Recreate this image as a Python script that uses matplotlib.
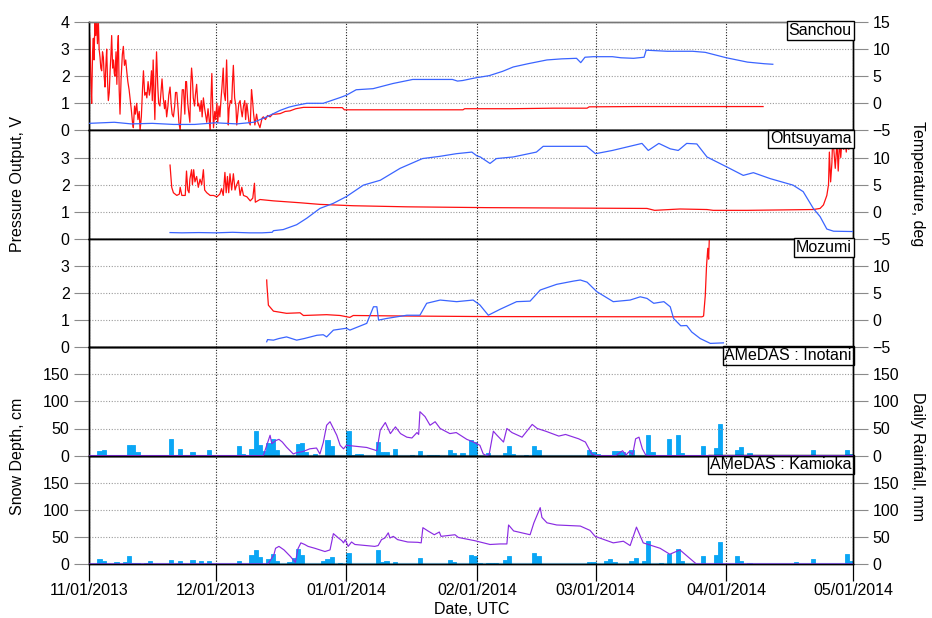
import numpy as np
import matplotlib
matplotlib.use("Agg")
import matplotlib.pyplot as plt
import matplotlib.dates as mdates

plt.rcParams['font.family'] = ['Liberation Sans', 'DejaVu Sans']

# ---------------- data (day offset from 2013-11-01, value) ----------------
START = '2013-11-01'
END = '2014-05-01'
month_labels = ['11/01/2013', '12/01/2013', '01/01/2014', '02/01/2014',
                '03/01/2014', '04/01/2014', '05/01/2014']

station_names = ['Sanchou', 'Ohtsuyama', 'Mozumi', 'AMeDAS : Inotani', 'AMeDAS : Kamioka']

sanchou_pressure = [
    (0.0, 2.5), (0.1, 3.6), (0.25, 3.3), (0.45, 1.8), (0.63, 1.0), (0.85, 2.9), (1.03, 3.4), (1.2, 2.6),
    (1.42, 4.2), (1.6, 3.5), (1.8, 4.2), (2.0, 3.2), (2.21, 4.1), (2.4, 3.0), (2.61, 2.7), (2.8, 2.3),
    (3.0, 2.2), (3.2, 2.9), (3.4, 2.7), (3.6, 2.0), (3.79, 1.6), (4.0, 2.4), (4.19, 3.0), (4.4, 1.8),
    (4.58, 1.1), (4.8, 1.4), (5.0, 2.2), (5.2, 2.8), (5.37, 3.5), (5.6, 2.3), (5.8, 2.6), (6.0, 2.1),
    (6.16, 2.0), (6.4, 2.9), (6.6, 1.7), (6.8, 3.1), (6.95, 3.5), (7.15, 1.5), (7.35, 0.6), (7.6, 1.9),
    (7.9, 2.8), (8.14, 3.1), (8.4, 2.4), (8.7, 2.6), (8.93, 2.2), (9.2, 1.8), (9.5, 1.5), (9.72, 1.2),
    (10.0, 0.8), (10.3, 0.3), (10.5, 0.1), (10.8, 0.9), (11.0, 0.6), (11.3, 1.0), (11.6, 0.4), (11.9, 0.7),
    (12.1, 0.0), (12.4, 0.5), (12.7, 1.6), (12.9, 2.2), (13.2, 1.3), (13.5, 1.4), (13.7, 1.2), (14.0, 1.8),
    (14.3, 1.3), (14.5, 1.5), (14.8, 2.2), (15.0, 1.1), (15.2, 2.6), (15.4, 1.5), (15.6, 0.4), (15.8, 1.8),
    (16.0, 2.9), (16.3, 1.6), (16.5, 1.0), (16.8, 0.9), (17.1, 1.5), (17.3, 1.9), (17.6, 1.2), (17.9, 0.8),
    (18.1, 1.1), (18.4, 0.5), (18.7, 0.9), (18.9, 1.3), (19.2, 1.6), (19.5, 0.9), (19.7, 0.6), (20.0, 0.5),
    (20.3, 0.9), (20.5, 1.4), (20.8, 1.4), (21.1, 0.8), (21.3, 0.3), (21.6, 0.0), (21.9, 0.9), (22.1, 1.5),
    (22.4, 1.5), (22.7, 0.6), (22.9, 1.8), (23.1, 1.8), (23.4, 1.0), (23.6, 0.7), (23.9, 0.3), (24.1, 1.7),
    (24.3, 2.3), (24.5, 1.9), (24.7, 1.2), (25.0, 0.9), (25.2, 1.3), (25.5, 1.7), (25.8, 0.9), (26.0, 1.0),
    (26.3, 0.7), (26.6, 1.1), (26.8, 0.5), (27.1, 1.2), (27.4, 0.8), (27.6, 0.6), (27.9, 0.3), (28.2, 0.8),
    (28.4, 0.5), (28.7, 0.0), (28.9, 1.2), (29.1, 2.1), (29.3, 0.9), (29.5, 0.1), (29.8, 0.7), (30.0, 0.4),
    (30.3, 1.0), (30.5, 0.3), (30.8, 0.9), (31.0, 0.5), (31.3, 1.2), (31.5, 1.6), (31.8, 2.3), (32.0, 1.4),
    (32.3, 1.1), (32.6, 2.6), (32.8, 1.5), (33.0, 0.2), (33.2, 0.8), (33.5, 1.1), (33.8, 1.0), (34.0, 1.8),
    (34.2, 2.4), (34.5, 1.2), (34.8, 0.9), (35.0, 0.2), (35.3, 0.7), (35.5, 1.0), (35.8, 1.1), (36.1, 0.7),
    (36.3, 0.5), (36.6, 0.9), (36.9, 1.1), (37.1, 0.4), (37.4, 1.0), (37.7, 0.6), (37.9, 0.3), (38.2, 0.2),
    (38.5, 1.5), (38.7, 1.2), (39.0, 0.6), (39.3, 0.2), (39.5, 0.4), (39.7, 0.6), (40.0, 0.3), (40.5, 0.1),
    (41.0, 0.45), (41.3, 0.5), (41.8, 0.4), (42.3, 0.55), (42.9, 0.5), (43.5, 0.6), (44.2, 0.6), (45.3, 0.62),
    (46.5, 0.7), (47.6, 0.72), (49.0, 0.8), (50.8, 0.85), (52.0, 0.85), (55.0, 0.85), (58.0, 0.84), (60.0, 0.84),
    (60.5, 0.76), (70.0, 0.76), (80.0, 0.76), (88.6, 0.76), (89.0, 0.8), (100.0, 0.8), (110.0, 0.82),
    (118.0, 0.82), (118.5, 0.87), (130.0, 0.88), (145.0, 0.88), (159.7, 0.88),
]

sanchou_temp = [
    (0, -3.7), (3, -3.6), (6, -3.5), (10, -3.8), (15, -3.7), (20, -3.9), (25, -3.9), (30, -3.6), (35, -3.8),
    (39, -3.5), (42.1, -2.5), (45.3, -1.3), (47.4, -0.7), (49, -0.4), (51.6, 0.0), (55.5, 0.0), (59.5, 1.06),
    (61, 1.5), (63.3, 2.5), (67.3, 2.7), (72, 3.65), (76.7, 4.4), (80, 4.4), (86.1, 4.4), (87.3, 4.1),
    (88.5, 4.2), (91.6, 4.7), (94.8, 5.1), (98, 5.9), (100.5, 6.7), (104, 7.3), (108.5, 8.0), (112, 8.2),
    (115.5, 8.3), (116.5, 7.5), (117.5, 8.5), (119.5, 8.6), (124, 8.6), (126, 8.4), (129, 8.3), (131.5, 8.5),
    (132, 9.8), (137, 9.6), (143, 9.6), (146, 9.4), (148, 9.0), (151, 8.4), (156, 7.6), (160, 7.3), (162, 7.2),
]

ohtsuyama_pressure = [
    (19.2, 2.72), (19.4, 2.3), (19.6, 1.9), (20.0, 1.7), (20.8, 1.6), (21.4, 1.65), (21.6, 1.9), (22.0, 1.6),
    (22.8, 1.6), (23.1, 2.5), (23.4, 1.8), (23.7, 1.7), (23.9, 2.2), (24.3, 2.55), (24.5, 2.0), (24.8, 2.55),
    (25.1, 2.1), (25.5, 2.3), (25.9, 1.9), (26.3, 2.2), (26.7, 2.0), (27.1, 2.55), (27.4, 1.8), (27.9, 1.7),
    (28.7, 1.6), (29.5, 1.6), (30.3, 1.55), (31.0, 1.65), (31.4, 1.85), (31.8, 1.6), (32.2, 2.45), (32.5, 1.7),
    (32.8, 2.3), (33.1, 1.7), (33.4, 2.4), (33.8, 1.8), (34.2, 2.4), (34.6, 1.8), (35.0, 2.0), (35.4, 2.15),
    (35.8, 1.6), (36.2, 1.9), (36.6, 1.6), (37.4, 1.55), (38.2, 1.4), (38.8, 1.5), (39.2, 2.05), (39.4, 1.35),
    (40.5, 1.45), (43.7, 1.4), (50.0, 1.33), (54.7, 1.27), (62.6, 1.22), (75.3, 1.18), (94.2, 1.15),
    (132.2, 1.12), (134.0, 1.05), (140.0, 1.1), (146.4, 1.08), (147.9, 1.05), (155.9, 1.05), (171.6, 1.08),
    (173.2, 1.12), (174.0, 1.25), (174.8, 1.6), (175.2, 2.0), (175.4, 3.2), (175.7, 2.1), (176.0, 2.8),
    (176.2, 3.8), (176.5, 3.2), (176.8, 2.6), (177.2, 3.6), (177.5, 2.5), (177.8, 3.6), (178.1, 3.0),
    (178.4, 3.7), (178.8, 3.3), (179.1, 3.7), (179.4, 3.2), (179.7, 3.7), (180.0, 3.3), (180.3, 3.8),
    (180.6, 3.4), (181.0, 3.7),
]

ohtsuyama_temp = [
    (19.2, -3.85), (22, -3.9), (26, -3.85), (30, -3.9), (34, -3.8), (38, -3.9), (41, -3.9), (43.4, -3.8),
    (43.7, -3.5), (46, -3.3), (49.2, -2.4), (51.6, -1.2), (54.7, 0.6), (57.9, 1.55), (61, 2.8), (65, 4.9),
    (69, 5.8), (73.7, 8.0), (79, 9.8), (83, 10.2), (87, 10.7), (90.7, 11.0), (91.9, 10.3), (92.7, 10.1),
    (95, 8.9), (96.5, 9.8), (100.5, 10.1), (106, 11.0), (107.6, 12.06), (117.9, 12.06), (120, 10.7),
    (124, 11.3), (131, 12.6), (132.5, 11.3), (135, 12.6), (137.7, 11.6), (139.6, 11.3), (141.6, 12.6),
    (144, 12.5), (146.4, 10.1), (151, 8.3), (155, 6.7), (157.4, 7.2), (161.4, 6.1), (166.8, 4.9),
    (169.2, 3.7), (171.6, 0.6), (173.2, -0.9), (174.8, -3.2), (176.4, -3.6), (181, -3.66),
]

mozumi_pressure = [
    (42.1, 2.48), (42.15, 2.3), (42.5, 1.55), (43.7, 1.33), (46.8, 1.25), (50.0, 1.27), (50.8, 1.17),
    (56.3, 1.2), (59.5, 1.17), (61.8, 1.1), (62.6, 1.17), (75.3, 1.15), (94.2, 1.13), (145.2, 1.12),
    (145.6, 1.15), (146.0, 1.9), (146.3, 3.0), (146.6, 3.65), (146.8, 3.25), (147.0, 4.2),
]

mozumi_temp = [
    (42.1, -4.0), (42.3, -3.6), (43.7, -3.7), (45, -3.4), (46.8, -3.1), (49.2, -3.7), (51, -3.4), (54, -2.8),
    (55.5, -2.7), (56.3, -3.1), (57.9, -1.85), (61, -1.5), (61.8, -1.85), (65.8, -0.6), (67.4, 2.46),
    (68.2, 2.46), (68.6, 0.0), (70.5, 0.3), (75.3, 0.9), (78.4, 0.9), (80, 3.1), (83.2, 3.7), (87.1, 3.4),
    (91, 3.7), (92.6, 2.8), (94.6, 0.9), (97.4, 2.0), (101.3, 3.4), (104.5, 3.5), (106.9, 5.55), (110.8, 6.6),
    (114.8, 7.2), (116.4, 7.4), (118, 7.0), (120.3, 5.25), (124.2, 3.4), (128.2, 3.7), (130.6, 4.3),
    (132.2, 4.0), (133.8, 3.1), (136.2, 3.4), (137.7, 2.46), (138.5, 0.3), (140.2, -1.05), (141.6, -1.0),
    (142.8, -2.2), (144.8, -3.4), (147.2, -4.3), (150.3, -4.2),
]

inotani_rain = [
    (2, 9), (3, 11), (6, 2), (8, 1), (9, 19), (10, 19), (11, 6), (13, 1), (14, 1), (19, 30), (20, 1), (21, 13),
    (24, 6), (26, 1), (28, 11), (29, 1), (35, 17), (36, 3), (38, 12.5), (39, 45), (40, 19), (41, 9), (42, 24),
    (43, 30), (44, 11), (49, 21), (50, 23), (51, 6), (53, 3), (56, 29), (57, 17), (61, 45), (62, 1), (63, 3),
    (64, 3), (68, 26), (69, 6), (70, 6), (72, 12.5), (76, 1), (78, 9), (80, 1), (81, 1), (82, 2), (85, 11),
    (86, 5), (88, 5), (90, 28), (91, 25), (94, 5), (98, 5), (99, 17.5), (100, 3), (103, 1), (105, 17.5),
    (106, 11), (118, 10.6), (119, 6), (120, 3), (124, 9), (125, 9), (126, 7.5), (128, 11), (132, 37.5),
    (133, 6), (137, 30), (139, 37.5), (140, 5), (145, 17.5), (148, 14), (149, 58), (153, 11), (154, 15.6),
    (156, 5), (160, 1), (167, 2), (171, 11), (179, 11), (180, 3),
]

kamioka_rain = [
    (2, 9), (3, 5.6), (6, 3), (8, 3), (9, 14), (10, 1), (11, 1), (13, 1), (14, 5.6), (19, 7.5), (21, 5.6),
    (24, 7.5), (26, 5.6), (28, 5.6), (35, 5.6), (38, 17), (39, 26), (40, 12), (42, 9), (43, 18), (44, 6),
    (47, 3), (48, 10.6), (49, 28), (50, 17), (55, 6), (56, 9), (57, 12), (59, 1), (61, 21), (68, 25), (69, 3),
    (70, 5.6), (72, 3), (78, 10.6), (85, 7.5), (86, 3), (90, 17), (91, 15.6), (92, 1), (94, 1), (95, 1),
    (96, 1), (98, 7.5), (99, 15.6), (105, 21), (106, 14), (118, 4.4), (119, 4.4), (122, 5.6), (123, 9),
    (124, 4.4), (128, 5.6), (129, 10.6), (131, 5.6), (132, 43), (135, 1), (137, 18), (139, 28), (140, 5.6),
    (145, 15.6), (148, 17), (149, 40), (153, 15.6), (154, 6), (156, 1), (167, 3), (171, 9), (179, 19),
    (180, 5.6),
]

inotani_snow = [
    (0, 0), (41.3, 0), (42.9, 37.5), (43.3, 22), (44.3, 28), (45.0, 30), (45.8, 25), (46.8, 15.6), (48.4, 3),
    (49.0, 5), (50.7, 7.5), (52.3, 12.5), (53.9, 14), (54.7, 3), (55.5, 24), (56.3, 56), (57.1, 62.5),
    (57.9, 50), (58.7, 37.5), (59.5, 19), (60.3, 12.5), (61.0, 19), (63.4, 17), (65.8, 15), (67.4, 11),
    (68.2, 9), (69.0, 47), (70.2, 61), (71.4, 40.6), (72.6, 53), (73.8, 40.6), (75.3, 34), (76.5, 32.5),
    (77.7, 42.5), (78.1, 39), (78.4, 81), (79.6, 72), (80.8, 56), (82.0, 62.5), (83.2, 50), (85.5, 40.6),
    (87.0, 42.5), (89.5, 30), (91.1, 25), (92.6, 19), (93.4, 3), (94.2, 0), (94.8, 2), (95.8, 45), (96.6, 38),
    (98.2, 25), (99.0, 50), (100.2, 42.5), (102.6, 34), (105.0, 57.5), (106.2, 50), (108.2, 45), (111.3, 36),
    (112.9, 39), (116.0, 31), (117.6, 25), (119.1, 3), (120.0, 0), (124.8, 0), (126.4, 9), (127.2, 1),
    (128.0, 7.5), (128.8, 2), (129.5, 31), (130.3, 34), (131.1, 12.5), (131.9, 1), (132.5, 0), (181, 0),
]

kamioka_snow = [
    (0, 0), (42.4, 0), (43.8, 17), (44.2, 29), (45.0, 32.5), (46.2, 26), (47.7, 14), (48.9, 3), (49.5, 28),
    (50.2, 39), (51.1, 36), (51.9, 32.5), (53.5, 29), (55.9, 23), (57.1, 26), (57.9, 56), (59.1, 48),
    (59.9, 43), (60.3, 39), (60.7, 45), (61.4, 32.5), (62.2, 40.6), (63.0, 36), (67.7, 32.5), (68.5, 34),
    (69.3, 45), (70.1, 48), (70.9, 57.5), (71.3, 48), (72.1, 51), (73.1, 45), (75.5, 40.6), (77.9, 40),
    (78.7, 39), (79.1, 67), (80.3, 61), (81.8, 54), (83.0, 59), (83.4, 51), (86.7, 54), (87.5, 49),
    (91.4, 43), (95.0, 36), (97.4, 37), (99.0, 37), (99.4, 72), (100.6, 61), (104.5, 54), (105.4, 76),
    (106.9, 104), (107.3, 86), (108.5, 76), (110.8, 72), (116.4, 70), (118.7, 62), (119.9, 51), (124.2, 39),
    (126.6, 42), (128.2, 34), (129.7, 68), (131.3, 39), (135.3, 29), (137.6, 18), (140.0, 26), (142.3, 10.6),
    (143.9, 0), (181, 0),
]

# ---------------- helpers ----------------
base_num = mdates.date2num(np.datetime64(START))
xmin = mdates.date2num(np.datetime64(START))
xmax = mdates.date2num(np.datetime64(END))


def unzip(pairs):
    d = np.array([p[0] for p in pairs], dtype=float)
    v = np.array([p[1] for p in pairs], dtype=float)
    return base_num + d, v


RED = '#ff1010'
BLUE = '#3a64ff'
PURPLE = '#8a2be2'
RAIN = '#0aa6f5'
FS = 11.5

fig = plt.figure(figsize=(9.32, 6.18), dpi=100)
gs = fig.add_gridspec(5, 1, left=89 / 932, right=853 / 932, top=1 - 22 / 618, bottom=1 - 564 / 618, hspace=0)

pressure_sets = [sanchou_pressure, ohtsuyama_pressure, mozumi_pressure]
temp_sets = [sanchou_temp, ohtsuyama_temp, mozumi_temp]
rain_sets = [inotani_rain, kamioka_rain]
snow_sets = [inotani_snow, kamioka_snow]

for i in range(5):
    ax = fig.add_subplot(gs[i])
    ax2 = ax.twinx()
    if i < 3:
        t, v = unzip(pressure_sets[i])
        ax.plot(t, v, color=RED, lw=0.9, zorder=3)
        t2, v2 = unzip(temp_sets[i])
        ax2.plot(t2, v2, color=BLUE, lw=0.9, zorder=3)
        ax.set_ylim(0, 4)
        ax2.set_ylim(-5, 15)
        if i == 0:
            ax.set_yticks([0, 1, 2, 3, 4])
            ax2.set_yticks([-5, 0, 5, 10, 15])
        else:
            ax.set_yticks([0, 1, 2, 3])
            ax2.set_yticks([-5, 0, 5, 10])
    else:
        j = i - 3
        tr, vr = unzip(rain_sets[j])
        ax2.bar(tr, vr, width=1.0, align='edge', color=RAIN, edgecolor=RAIN, lw=0.6, zorder=2)
        ax2.axhline(0, color='#8fd8ff', lw=1.6, zorder=1)
        ts, vs = unzip(snow_sets[j])
        ax.plot(ts, vs, color=PURPLE, lw=0.85, zorder=3)
        ax.set_ylim(0, 200)
        ax2.set_ylim(0, 200)
        ax.set_yticks([0, 50, 100, 150])
        ax2.set_yticks([0, 50, 100, 150])
        ax.set_zorder(ax2.get_zorder() + 1)
        ax.patch.set_visible(False)
    ax.set_xlim(xmin, xmax)
    ax2.set_xlim(xmin, xmax)

    ax.grid(axis='y', ls=(0, (1, 1.5)), color='#9a9a9a', lw=0.8)
    ax.grid(axis='x', ls=(0, (1, 1.5)), color='#202020', lw=0.8)
    ax.xaxis.set_major_locator(mdates.MonthLocator())
    ax.xaxis.set_major_formatter(mdates.DateFormatter('%m/%d/%Y'))

    for a in (ax, ax2):
        a.tick_params(axis='y', direction='out', length=11, width=0.8, color='#8a8a8a',
                      labelsize=FS, pad=3)
        for s in a.spines.values():
            s.set_color('black')
            s.set_linewidth(1.0)
    if i == 0:
        ax.spines['top'].set_color('#777777')
        ax2.spines['top'].set_color('#777777')

    if i < 4:
        ax.tick_params(axis='x', length=0, labelbottom=False)
    else:
        ax.tick_params(axis='x', direction='out', length=12, width=0.9, color='black',
                       labelsize=FS, pad=2)
        ticks = ax.get_xticks()
        ax.set_xticks(ticks)
        ax.set_xticklabels(month_labels[:len(ticks)])
    ax2.tick_params(axis='x', length=0, labelbottom=False)

    ax2.text(0.9985, 0.99, station_names[i], transform=ax2.transAxes, ha='right', va='top',
             fontsize=FS, zorder=10,
             bbox=dict(boxstyle='square,pad=0.12', fc='white', ec='black', lw=1.0))

fig.text(18 / 932, 1 - 184 / 618, 'Pressure Output, V', rotation=90, ha='center', va='center', fontsize=FS)
fig.text(918 / 932, 1 - 184 / 618, 'Temperature, deg', rotation=270, ha='center', va='center', fontsize=FS)
fig.text(18 / 932, 1 - 456 / 618, 'Snow Depth, cm', rotation=90, ha='center', va='center', fontsize=FS)
fig.text(918 / 932, 1 - 456 / 618, 'Daily Rainfall, mm', rotation=270, ha='center', va='center', fontsize=FS)
fig.text(472 / 932, 1 - 609 / 618, 'Date, UTC', ha='center', va='center', fontsize=FS)

fig.savefig('out.png', dpi=100)
